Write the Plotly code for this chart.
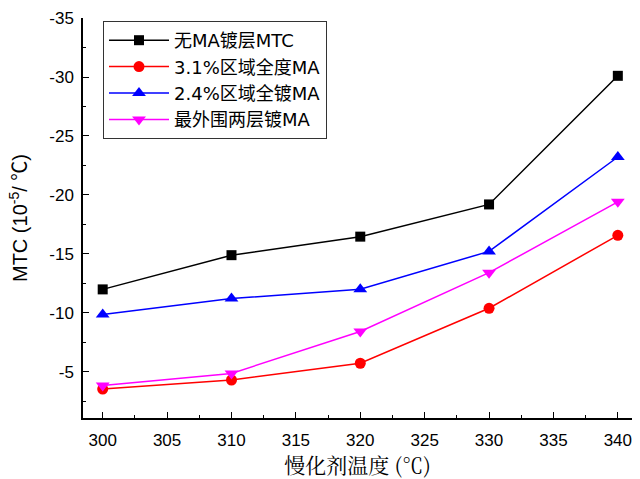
import plotly.graph_objects as go

x_temp = [300, 310, 320, 330, 340]
no_ma = [-12.0, -14.9, -16.47, -19.2, -30.1]
ma_31 = [-3.55, -4.32, -5.74, -10.4, -16.58]
ma_24 = [-9.88, -11.22, -12.02, -15.22, -23.22]
ma_outer = [-3.85, -4.88, -8.43, -13.42, -19.42]

names = ["无MA镀层MTC", "3.1%区域全度MA", "2.4%区域全镀MA", "最外围两层镀MA"]
colors = ["#000000", "#ff0000", "#0000ff", "#ff00ff"]
symbols = ["square", "circle", "triangle-up", "triangle-down"]
sizes = [10, 11, 12, 12]
series = [no_ma, ma_31, ma_24, ma_outer]

fig = go.Figure()
for name, col, sym, sz, ys in zip(names, colors, symbols, sizes, series):
    fig.add_trace(go.Scatter(
        x=x_temp, y=ys, name=name, mode="lines+markers",
        line=dict(color=col, width=1.5),
        marker=dict(symbol=sym, size=sz, color=col),
    ))

font_main = "Liberation Sans, Arial, Noto Sans CJK SC"
fig.update_layout(
    width=640, height=479,
    margin=dict(l=83, r=8, t=18, b=61),
    plot_bgcolor="white", paper_bgcolor="white",
    font=dict(family=font_main, color="black", size=17),
    legend=dict(
        x=(103 - 83) / 549, y=1 - (21 - 18) / 400, xanchor="left", yanchor="top",
        bordercolor="#333333", borderwidth=1, bgcolor="white",
        font=dict(size=18, family="DejaVu Sans, Noto Sans CJK SC"),
        tracegroupgap=0, itemwidth=60,
    ),
    xaxis=dict(
        range=[298.47, 341.1], tickvals=[300, 305, 310, 315, 320, 325, 330, 335, 340],
        ticks="inside", ticklen=6, tickwidth=1.2, tickcolor="black",
        showline=True, linecolor="black", linewidth=1.5, showgrid=False, zeroline=False,
        minor=dict(dtick=2.5, tick0=300, ticks="inside", ticklen=3, tickcolor="black", showgrid=False),
        tickfont=dict(size=17), ticklabelstandoff=6, automargin=False,
        title=dict(text="慢化剂温度 (℃)", font=dict(size=21, family="Noto Serif CJK SC, Noto Sans CJK SC"), standoff=14),
    ),
    yaxis=dict(
        range=[-1.1, -35], tickvals=[-35, -30, -25, -20, -15, -10, -5],
        ticktext=["-35", "-30", "-25", "-20", "-15", "-10", "-5"],
        ticks="inside", ticklen=6, tickwidth=1.2, tickcolor="black",
        showline=True, linecolor="black", linewidth=1.5, showgrid=False, zeroline=False,
        minor=dict(dtick=2.5, tick0=-35, ticks="inside", ticklen=3, tickcolor="black", showgrid=False),
        tickfont=dict(size=17), ticklabelstandoff=4, automargin=False,
        title=dict(text="MTC (10<sup>-5</sup>/ ℃)", font=dict(size=20), standoff=16),
    ),
)

fig.write_html("out.html")
